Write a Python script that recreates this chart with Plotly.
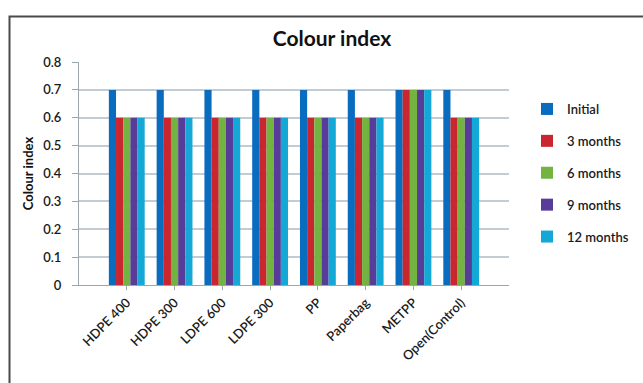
import plotly.graph_objects as go

categories = ["HDPE 400", "HDPE 300", "LDPE 600", "LDPE 300", "PP", "Paperbag", "METPP", "Open(Control)"]
series_names = ["Initial", "3 months", "6 months", "9 months", "12 months"]
initial = [0.7, 0.7, 0.7, 0.7, 0.7, 0.7, 0.7, 0.7]
months_3 = [0.6, 0.6, 0.6, 0.6, 0.6, 0.6, 0.7, 0.6]
months_6 = [0.6, 0.6, 0.6, 0.6, 0.6, 0.6, 0.7, 0.6]
months_9 = [0.6, 0.6, 0.6, 0.6, 0.6, 0.6, 0.7, 0.6]
months_12 = [0.6, 0.6, 0.6, 0.6, 0.6, 0.6, 0.7, 0.6]
y_ticks = [0, 0.1, 0.2, 0.3, 0.4, 0.5, 0.6, 0.7, 0.8]

series_values = [initial, months_3, months_6, months_9, months_12]
colors = ["#0a6cbf", "#c9262f", "#72b342", "#573d97", "#14a8d6"]

W, H = 643, 383
L, R, T, B = 79, 134, 62, 98
pw, ph = W - L - R, H - T - B

fig = go.Figure()
for name, vals, col in zip(series_names, series_values, colors):
    fig.add_trace(go.Bar(
        x=categories, y=vals, name=name, marker=dict(color=col, line=dict(width=0)),
        legendgroup=name,
    ))

font_family = "Lato, 'Open Sans', sans-serif"

fig.update_layout(
    width=W, height=H,
    margin=dict(l=L, r=R, t=T, b=B, autoexpand=False),
    paper_bgcolor="white", plot_bgcolor="white",
    barmode="group", bargap=0.25, bargroupgap=0,
    font=dict(family=font_family, color="#1a1a1a"),
    title=dict(text="<b>Colour index</b>", x=332 / W, xanchor="center",
               y=1 - 39 / H, yanchor="middle", font=dict(size=21, color="#111111")),
    legend=dict(x=(527 - L) / pw, xanchor="left", y=1 - (94 - T) / ph, yanchor="top",
                font=dict(size=13, color="#1a1a1a", weight=600), tracegroupgap=12,
                bgcolor="rgba(0,0,0,0)", itemwidth=30),
    xaxis=dict(
        type="category", range=[-1, 8], tickangle=-45, automargin=False,
        ticks="outside", ticklen=4, tickcolor="#9aa6ae",
        showline=True, linecolor="#9aa6ae", linewidth=1,
        showgrid=False, tickfont=dict(size=13, color="#1a1a1a", weight=600),
    ),
    yaxis=dict(
        range=[0, 0.8], tickvals=y_ticks, ticktext=[f"{v:g}" for v in y_ticks],
        automargin=False,
        showgrid=True, gridcolor="#c3ccd3", gridwidth=1.5,
        showline=True, linecolor="#9aa6ae", linewidth=1,
        ticks="outside", ticklen=6, tickcolor="#9aa6ae", ticklabelstandoff=8,
        tickfont=dict(size=13, color="#1a1a1a", weight=600), zeroline=False,
        title=dict(text="<b>Colour index</b>", font=dict(size=13, color="#111111"), standoff=6),
    ),
)

# outer frame around the chart
fig.add_shape(type="rect", xref="paper", yref="paper",
              x0=(9.5 - L) / pw, x1=(W + 10 - L) / pw,
              y0=-(B + 10) / ph, y1=1 + (T - 16.5) / ph,
              line=dict(color="#4a4a4a", width=2), fillcolor="rgba(0,0,0,0)", layer="below")

fig.write_html("out.html")
